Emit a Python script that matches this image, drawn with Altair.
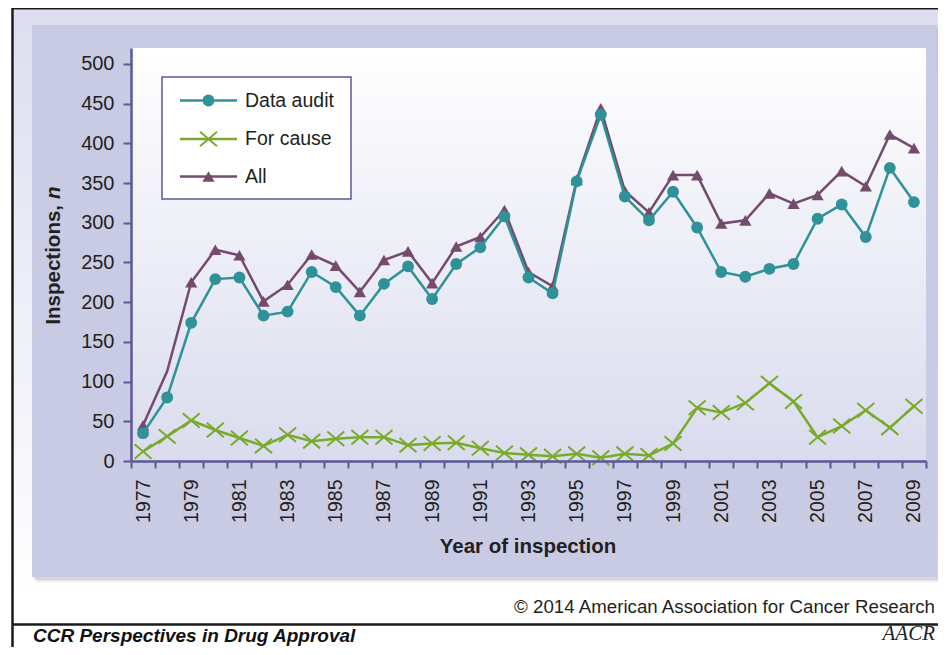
import altair as alt
import pandas as pd

# ---------------- data ----------------
years = list(range(1977, 2010))
data_audit = [35, 80, 174, 229, 231, 183, 188, 238, 219, 183, 223, 245, 204, 248, 269,
              308, 231, 211, 352, 436, 333, 303, 339, 294, 238, 232, 242, 248, 305, 323,
              282, 369, 326]
for_cause = [12, 31, 51, 39, 29, 19, 33, 25, 28, 30, 30, 20, 22, 23, 16, 10, 8, 6, 9, 4,
             9, 7, 22, 67, 61, 73, 98, 75, 30, 44, 64, 42, 69]
all_insp = [45, 113, 225, 266, 259, 201, 222, 260, 246, 213, 253, 264, 224, 270, 282,
            316, 238, 220, 354, 444, 340, 313, 360, 360, 299, 303, 337, 324, 335, 365,
            346, 411, 394]
# the 1978 value of "All" is drawn without a marker in the original
all_marked = [y != 1978 for y in years]
y_ticks = list(range(0, 501, 50))
series_names = ["Data audit", "For cause", "All"]

# ---------------- style ----------------
F = "Liberation Sans"
W, H = 795, 413
OX, OY = 131, 48          # page position of the plot origin
TEAL, GREEN, PURPLE = "#2e9298", "#7aaa2b", "#744a6d"
AXIS = "#5a589a"
TXT = "#231f20"
XPATH = "M-1,-0.85L1,0.85M-1,0.85L1,-0.85"

one = pd.DataFrame({"k": [0]})


def px(x):
    return x - OX


def py(y):
    return y - OY


def rect(x1, y1, x2, y2, **kw):
    return alt.Chart(one).mark_rect(**kw).encode(
        x=alt.value(px(x1)), x2=alt.value(px(x2)), y=alt.value(py(y1)), y2=alt.value(py(y2)))


def rule(x1, y1, x2, y2, **kw):
    return alt.Chart(one).mark_rule(**kw).encode(
        x=alt.value(px(x1)), x2=alt.value(px(x2)), y=alt.value(py(y1)), y2=alt.value(py(y2)))


def text(t, x, y, **kw):
    return alt.Chart(one).mark_text(text=t, **kw).encode(x=alt.value(px(x)), y=alt.value(py(y)))


def vgrad(c1, c2):
    return alt.Gradient(gradient="linear", x1=0, y1=0, x2=0, y2=1,
                        stops=[alt.GradientStop(color=c1, offset=0),
                               alt.GradientStop(color=c2, offset=1)])


# ---------------- decorations ----------------
deco = [
    rect(14, 9, 950, 600, fill=vgrad("#dcdef0", "#ffffff")),
    rect(36, 29, 942, 582, fill="#8c8ca4", opacity=0.18),
    rect(34, 27, 940, 580, fill="#8c8ca4", opacity=0.22),
    rect(32, 25, 937, 577, fill="#c9cae4"),
    rect(OX, OY, OX + W, OY + H, fill=vgrad("#ffffff", "#dadcee")),
    rule(12.5, 8, 12.5, 660, color="#1a1a1a", strokeWidth=2.5),
    rule(12, 8.5, 950, 8.5, color="#1a1a1a", strokeWidth=2),
    rule(12, 624.5, 950, 624.5, color="#1a1a1a", strokeWidth=2.5),
    text("\u00a9 2014 American Association for Cancer Research", 935, 613,
         align="right", baseline="alphabetic", font=F, fontSize=18.7, color=TXT),
    text("CCR Perspectives in Drug Approval", 33, 642, align="left", baseline="alphabetic",
         font=F, fontSize=19, fontWeight="bold", fontStyle="italic", color="#111111"),
    text("AACR", 935, 640, align="right", baseline="alphabetic", font="Liberation Serif",
         fontSize=21, fontStyle="italic", color="#222222"),
    # axis titles
    text("Year of inspection", 528, 553, align="center", baseline="alphabetic",
         font=F, fontSize=20.5, fontWeight="bold", color=TXT),
    text("Inspections,", 54, 205, align="right", baseline="middle", angle=270,
         font=F, fontSize=20.5, fontWeight="bold", color=TXT),
    text("n", 54, 199, align="left", baseline="middle", angle=270,
         font=F, fontSize=20.5, fontWeight="bold", fontStyle="italic", color=TXT),
]

# ---------------- data layers ----------------
x_enc = alt.X("year:O", title=None,
              scale=alt.Scale(type="band", paddingInner=0, paddingOuter=0),
              axis=alt.Axis(tickBand="extent", labelAngle=-90, labelFont=F, labelFontSize=19.5,
                            labelColor=TXT, labelPadding=11, tickSize=7, tickWidth=2,
                            tickColor=AXIS, domainColor=AXIS, domainWidth=2.5,
                            labelExpr="toNumber(datum.value) % 2 == 1 ? datum.label : ''",
                            zindex=1))
y_enc = alt.Y("value:Q", title=None,
              scale=alt.Scale(domain=[0, 520], nice=False, zero=True),
              axis=alt.Axis(values=y_ticks, grid=False, labelFont=F, labelFontSize=20,
                            labelColor=TXT, labelPadding=9, tickSize=8, tickWidth=2,
                            tickColor=AXIS, domainColor=AXIS, domainWidth=2.5, zindex=1))

df_all = pd.DataFrame({"year": years, "value": all_insp, "marked": all_marked})
df_audit = pd.DataFrame({"year": years, "value": data_audit})
df_cause = pd.DataFrame({"year": years, "value": for_cause})

layers = [
    alt.Chart(df_all).mark_line(color=PURPLE, strokeWidth=2.5).encode(x=x_enc, y=y_enc),
    alt.Chart(df_all).transform_filter("datum.marked").mark_point(
        shape="triangle-up", filled=True, size=150, color=PURPLE, opacity=1).encode(x=x_enc, y=y_enc),
    alt.Chart(df_audit).mark_line(color=TEAL, strokeWidth=2.5).encode(x=x_enc, y=y_enc),
    alt.Chart(df_audit).mark_point(shape="circle", filled=True, size=140, color=TEAL,
                                   opacity=1).encode(x=x_enc, y=y_enc),
    alt.Chart(df_cause).mark_line(color=GREEN, strokeWidth=2.5).encode(x=x_enc, y=y_enc),
    alt.Chart(df_cause).mark_point(shape=XPATH, filled=False, size=289, strokeWidth=2,
                                   color=GREEN, opacity=1).encode(x=x_enc, y=y_enc),
]

# ---------------- legend ----------------
legend = [rect(162, 77, 351, 199, fill="white", stroke=AXIS, strokeWidth=1.5)]
leg_y = [100.5, 139, 176.5]
leg_style = [
    dict(shape="circle", filled=True, size=140, color=TEAL),
    dict(shape=XPATH, filled=False, size=289, strokeWidth=2, color=GREEN),
    dict(shape="triangle-up", filled=True, size=150, color=PURPLE),
]
leg_cols = [TEAL, GREEN, PURPLE]
for name, yy, st, col in zip(series_names, leg_y, leg_style, leg_cols):
    legend.append(rule(180, yy, 237, yy, color=col, strokeWidth=2.5))
    legend.append(alt.Chart(one).mark_point(opacity=1, **st).encode(
        x=alt.value(px(208.5)), y=alt.value(py(yy))))
    legend.append(text(name, 245, yy, align="left", baseline="middle", font=F,
                       fontSize=19.5, color=TXT))

chart = alt.layer(*deco, *layers, *legend).properties(
    width=W, height=H,
    padding={"left": 123, "top": 40, "right": 12, "bottom": 186},
    autosize=alt.AutoSizeParams(type="none"),
    background="white",
).configure_view(stroke=None)

chart.save("out.html", embed_options={"renderer": "svg", "actions": False})
